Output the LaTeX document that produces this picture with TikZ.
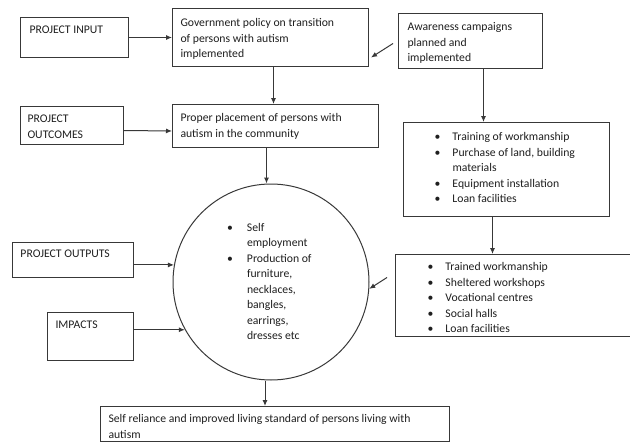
\documentclass[tikz,border=0pt]{standalone}
\usepackage{fontspec}
\setmainfont{Carlito}
\usetikzlibrary{arrows.meta}
\definecolor{ln}{gray}{0.22}
\definecolor{tx}{gray}{0.12}
\newcommand\bt[5]{\parbox[c][#2][t]{#1}{\raggedright\leftskip=#3\relax\rule{0pt}{#4}#5}}
\newcommand\bi[1][18pt]{\makebox[#1][l]{\textbullet}}
\newcommand\ci[1][18pt]{\hspace*{#1}}
\begin{document}
\begin{tikzpicture}[x=1pt,y=-1pt,
  box/.style={draw=ln, line width=1pt, inner sep=0pt, anchor=north west, text=tx, font=\fontsize{11.7}{15.5}\selectfont},
  ring/.style={circle, draw=ln, line width=1pt, inner sep=0pt, minimum size=196pt, text=tx, font=\fontsize{11.7}{15.5}\selectfont},
  arr/.style={draw=ln, line width=1pt, -{Latex[length=6pt,width=5pt]}}]
\useasboundingbox (0,0) rectangle (630,442);
\fill[white] (0,0) rectangle (630,442);
\clip (0,0) rectangle (630,442);
\node[box] (inp) at (20,17) {\bt{108pt}{40pt}{9pt}{16pt}{PROJECT INPUT}};
\node[box] (gov) at (172,8) {\bt{196pt}{58pt}{8pt}{18pt}{Government policy on transition\\of persons with autism\\implemented}};
\node[box] (aw) at (398,13) {\bt{144pt}{55pt}{9pt}{17pt}{Awareness campaigns\\planned and\\implemented}};
\node[box] (outc) at (20,106) {\bt{103pt}{38pt}{7pt}{16pt}{PROJECT\\OUTCOMES}};
\node[box] (prop) at (172,104) {\bt{206pt}{43pt}{8pt}{17pt}{Proper placement of persons with\\autism in the community}};
\node[box] (train) at (403,122) {\bt{206pt}{94pt}{31pt}{18pt}{\bi Training of workmanship\\\bi Purchase of land, building\\\ci materials\\\bi Equipment installation\\\bi Loan facilities}};
\node[box] (outs) at (395,254) {\bt{250pt}{82pt}{32pt}{16pt}{\bi Trained workmanship\\\bi Sheltered workshops\\\bi Vocational centres\\\bi Social halls\\\bi Loan facilities}};
\node[box] (pout) at (12,242) {\bt{121pt}{35pt}{8pt}{15pt}{PROJECT OUTPUTS}};
\node[box] (imp) at (47,312) {\bt{86pt}{48pt}{8pt}{16pt}{IMPACTS}};
\node[ring] (circ) at (271,282) {\bt{112pt}{130pt}{12pt}{14pt}{\bi[20pt]Self\\\ci[20pt]employment\\\bi[20pt]Production of\\\ci[20pt]furniture,\\\ci[20pt]necklaces,\\\ci[20pt]bangles,\\\ci[20pt]earrings,\\\ci[20pt]dresses etc}};
\node[box] (fin) at (100,406) {\bt{349pt}{35pt}{8pt}{16pt}{Self reliance and improved living standard of persons living with\\autism}};
\draw[arr] (inp.east) -- (gov.west);
\draw[arr] ([yshift=-5pt]outc.east) -- ([yshift=-5pt]prop.west);
\draw[arr] ([shift={(-5pt,-2.5pt)}]aw.west) -- ([shift={(2pt,-20pt)}]gov.east);
\draw[arr] ([xshift=3pt]gov.south) -- ([xshift=3pt]gov.south |- prop.north);
\draw[arr] ([xshift=-9pt]prop.south) -- ([xshift=-9pt]prop.south |- circ.north);
\draw[arr] ([xshift=13pt]aw.south) -- ([xshift=13pt]aw.south |- train.north);
\draw[arr] ([xshift=-14pt]train.south) -- ([xshift=-14pt]train.south |- outs.north);
\draw[arr] ([shift={(-8pt,18pt)}]outs.west) -- (circ.-4);
\draw[arr] (pout.east |- circ.170) -- (circ.170);
\draw[arr] (imp.east |- circ.209) -- (circ.209);
\draw[arr] ([xshift=-6pt]circ.south) -- ([xshift=-6pt]circ.south |- fin.north);
\end{tikzpicture}
\end{document}
